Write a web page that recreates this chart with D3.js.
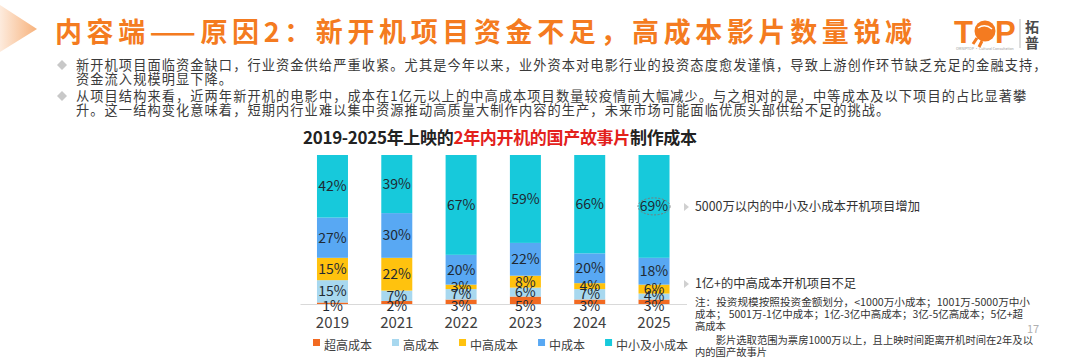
<!DOCTYPE html>
<html><head><meta charset="utf-8">
<script src="https://cdn.jsdelivr.net/npm/d3@7"></script>
<style>
html,body{margin:0;padding:0;background:#fff;}
svg{display:block;font-family:"Noto Sans CJK SC","Noto Sans",sans-serif;}
</style></head><body>
<svg id="c" width="1080" height="361"></svg>
<script>
// ---------- data ----------
const years = ["2019","2021","2022","2023","2024","2025"];
const seriesNames = ["超高成本","高成本","中高成本","中成本","中小及小成本"];
const superHigh = [1,2,3,5,3,3];
const high      = [15,7,7,6,7,4];
const midHigh   = [15,22,3,8,4,6];
const mid       = [27,30,20,22,20,18];
const smallMid  = [42,39,67,59,66,69];
const seriesColors = ["#F26A21","#A8D8EF","#FFC20E","#58A8F3","#17C9DB"];

const titleText = "内容端——原因2：新开机项目资金不足，高成本影片数量锐减";
const bulletLines = [
  "新开机项目面临资金缺口，行业资金供给严重收紧。尤其是今年以来，业外资本对电影行业的投资态度愈发谨慎，导致上游创作环节缺乏充足的金融支持，",
  "资金流入规模明显下降。",
  "从项目结构来看，近两年新开机的电影中，成本在1亿元以上的中高成本项目数量较疫情前大幅减少。与之相对的是，中等成本及以下项目的占比显著攀",
  "升。这一结构变化意味着，短期内行业难以集中资源推动高质量大制作内容的生产，未来市场可能面临优质头部供给不足的挑战。"
];
const chartTitleParts = ["2019-2025年上映的","2年内开机的国产故事片","制作成本"];
const annotations = ["5000万以内的中小及小成本开机项目增加","1亿+的中高成本开机项目不足"];
const noteLines = [
  "注：投资规模按照投资金额划分，<1000万小成本；1001万-5000万中小",
  "成本； 5001万-1亿中成本；1亿-3亿中高成本；3亿-5亿高成本；5亿+超",
  "高成本",
  "　　影片选取范围为票房1000万以上，且上映时间距离开机时间在2年及以",
  "内的国产故事片"
];
const pageNumber = "17";

// ---------- setup ----------
const svg = d3.select("#c");
const orange = "#F47B20";

// decorative arrow top-left
const defs = svg.append("defs");
const g1 = defs.append("linearGradient").attr("id","arrowGrad").attr("x1","0").attr("x2","1").attr("y1","0").attr("y2","0");
g1.append("stop").attr("offset","0").attr("stop-color","#FDEBDD");
g1.append("stop").attr("offset","1").attr("stop-color","#F7B27C");
svg.append("path").attr("d","M0,5 L37,29 L0,52 Z").attr("fill","url(#arrowGrad)");

// title
svg.append("text").attr("x",55).attr("y",42)
  .attr("font-size",27).attr("font-weight",700).attr("fill",orange)
  .attr("textLength",857).attr("lengthAdjust","spacing")
  .text(titleText);

// logo
const logo = svg.append("g");
logo.append("text").attr("x",954).attr("y",43).attr("font-size",31).attr("font-weight",900)
  .attr("fill",orange).attr("font-family","Liberation Sans, Arial").text("T");
logo.append("circle").attr("cx",985).attr("cy",31).attr("r",10.5).attr("fill",orange);
logo.append("path").attr("d","M978,28 q7,-5 14,1").attr("stroke","#fff").attr("stroke-width",1.5).attr("fill","none");
logo.append("path").attr("d","M977,38 l-4,6 M982,41 l-3,6").attr("stroke",orange).attr("stroke-width",3);
logo.append("text").attr("x",995).attr("y",43).attr("font-size",31).attr("font-weight",900)
  .attr("fill",orange).attr("font-family","Liberation Sans, Arial").text("P");
logo.append("text").attr("x",956).attr("y",50).attr("font-size",3.5).attr("fill","#999").text("OMNIPTOP · Cultural Consultation");
logo.append("line").attr("x1",1020).attr("x2",1020).attr("y1",19).attr("y2",48).attr("stroke","#aaa").attr("stroke-width",0.8);
logo.append("text").attr("x",1032).attr("y",32).attr("font-size",14).attr("font-weight",700).attr("fill","#4a4a4a").attr("text-anchor","middle").text("拓");
logo.append("text").attr("x",1032).attr("y",48).attr("font-size",14).attr("font-weight",700).attr("fill","#4a4a4a").attr("text-anchor","middle").text("普");

// bullets
const bulletY = [70, 84, 101, 115];
const bulletMarks = [0,2];
bulletLines.forEach((t,i)=>{
  svg.append("text").attr("x",76).attr("y",bulletY[i]).attr("font-size",13.2)
    .attr("letter-spacing",1.1).attr("fill","#3a3a3a").text(t);
});
bulletMarks.forEach(i=>{
  const cy = bulletY[i]-5, cx = 62;
  svg.append("path").attr("d",`M${cx},${cy-5} L${cx+5},${cy} L${cx},${cy+5} L${cx-5},${cy} Z`).attr("fill","#C8C8C8");
});

// chart title
const ct = svg.append("text").attr("x",303).attr("y",144).attr("font-size",17).attr("font-weight",700)
  .attr("textLength",394).attr("lengthAdjust","spacing");
ct.append("tspan").attr("fill","#222").text(chartTitleParts[0]);
ct.append("tspan").attr("fill","#E3211C").text(chartTitleParts[1]);
ct.append("tspan").attr("fill","#222").text(chartTitleParts[2]);

// ---------- chart ----------
const x = d3.scaleBand().domain(years).range([300, 686.5]).paddingInner(0.518).paddingOuter(0.264);
const y = d3.scaleLinear().domain([0,100]).range([304, 155]);

const rows = years.map((yr,i)=>({year:yr,
  "超高成本":superHigh[i],"高成本":high[i],"中高成本":midHigh[i],"中成本":mid[i],"中小及小成本":smallMid[i]}));
const stack = d3.stack().keys(seriesNames)(rows);
const color = d3.scaleOrdinal().domain(seriesNames).range(seriesColors);

const layers = svg.append("g").selectAll("g").data(stack).join("g").attr("fill",d=>color(d.key));
layers.selectAll("rect").data(d=>d).join("rect")
  .attr("x",d=>x(d.data.year)).attr("width",x.bandwidth())
  .attr("y",d=>y(d[1])).attr("height",d=>y(d[0])-y(d[1]));

// axis
const axis = svg.append("g").attr("transform",`translate(0,${y(0)})`)
  .call(d3.axisBottom(x).tickSize(0).tickSizeOuter(0));
axis.select(".domain").attr("stroke","#D9D9D9").attr("stroke-width",1);
axis.selectAll("text").attr("y",19).attr("dy","0.35em").attr("font-size",15)
  .attr("fill","#404040").attr("font-family","Noto Sans CJK SC");

// labels
const lab = svg.append("g").attr("font-size",14).attr("fill","#1f2a33").attr("text-anchor","middle");
stack.forEach((layer,li)=>{
  layer.forEach(d=>{
    let cy = (y(d[0])+y(d[1]))/2;
    if (li===0) cy = Math.max(cy, y(0)+2);
    lab.append("text").attr("x",x(d.data.year)+x.bandwidth()/2).attr("y",cy)
      .attr("dy","0.35em").text((d[1]-d[0])+"%");
  });
});

// dashed ellipse around last top label
const lastTop = stack[stack.length-1][years.length-1];
svg.append("ellipse").attr("cx",x(years[years.length-1])+x.bandwidth()/2)
  .attr("cy",(y(lastTop[0])+y(lastTop[1]))/2).attr("rx",16).attr("ry",8.5)
  .attr("fill","none").attr("stroke","#7a7a7a").attr("stroke-dasharray","2,1.5").attr("stroke-width",1);

// legend
const leg = svg.append("g").attr("font-size",12).attr("fill","#404040");
let lx = 313;
seriesNames.forEach((n,i)=>{
  leg.append("rect").attr("x",lx).attr("y",339).attr("width",7).attr("height",7).attr("fill",seriesColors[i]);
  const t = leg.append("text").attr("x",lx+11).attr("y",346).attr("dy","0.35em").text(n);
  lx += 11 + t.node().getComputedTextLength() + 20;
});

// annotations
const annY = [207, 284];
const annW = [225, 161];
annotations.forEach((t,i)=>{
  const cy = annY[i];
  svg.append("path").attr("d",`M684,${cy-4} L689,${cy} L684,${cy+4} Z`).attr("fill","#D0D0D0");
  svg.append("text").attr("x",695).attr("y",cy).attr("dy","0.35em").attr("font-size",12.5)
    .attr("textLength",annW[i]).attr("lengthAdjust","spacingAndGlyphs")
    .attr("fill","#333").text(t);
});

// notes
const noteY = [302, 314, 326, 340, 352];
const noteW = [335, 328, null, 338, null];
noteLines.forEach((t,i)=>{
  const tx = svg.append("text").attr("x",695).attr("y",noteY[i]).attr("dy","0.35em").attr("font-size",10.3)
    .attr("fill","#333").text(t);
  if (noteW[i]) tx.attr("textLength",noteW[i]).attr("lengthAdjust","spacingAndGlyphs");
});
svg.append("text").attr("x",1027).attr("y",329).attr("dy","0.35em").attr("font-size",11)
  .attr("fill","#B0B0B0").text(pageNumber);
</script>
</body></html>
